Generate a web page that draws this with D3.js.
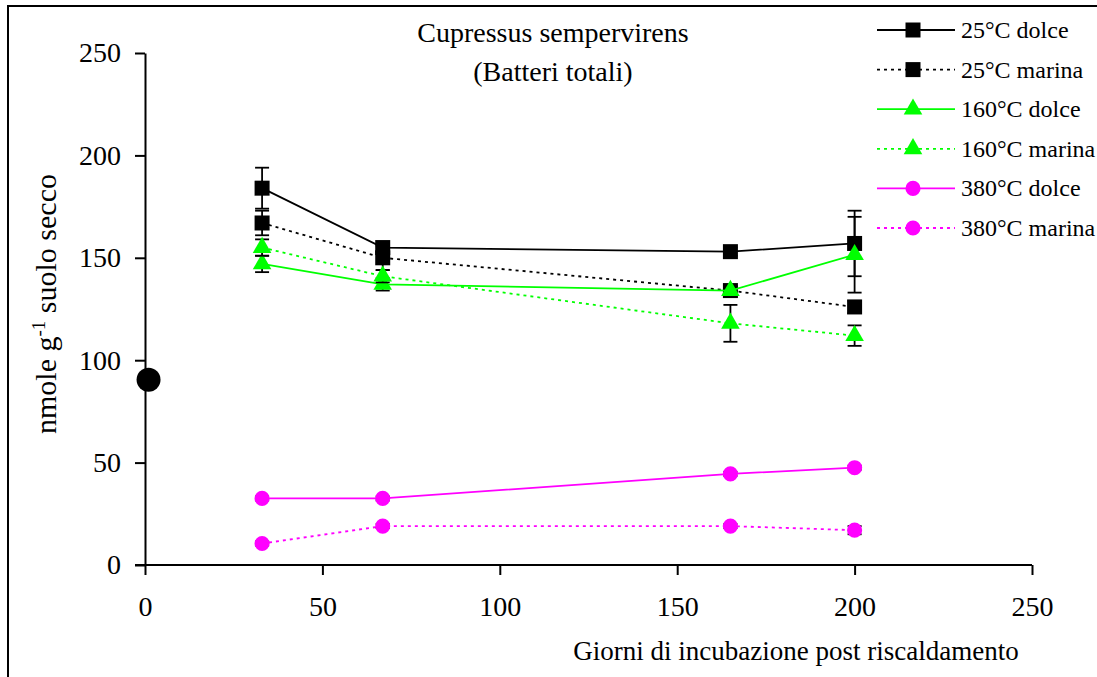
<!DOCTYPE html>
<html>
<head>
<meta charset="utf-8">
<script src="https://cdn.jsdelivr.net/npm/d3@7"></script>
<style>
  body { margin: 0; background: #fff; }
  svg { display: block; font-family: "Liberation Serif", "Times New Roman", serif; }
</style>
</head>
<body>
<svg id="chart" width="1097" height="677"></svg>
<script>
// giorni di incubazione
const days = [33, 67, 165, 200];

// valori per serie (nmole g-1 suolo secco)
const d25dolce = [184, 155, 153, 157];
const d25marina = [167, 150, 134, 126];
const d160dolce = [147, 137, 134, 151.5];
const d160marina = [155, 141, 118, 112];
const d380dolce = [32.5, 32.5, 44.5, 47.5];
const d380marina = [10.5, 19, 19, 17];

// errori
const e25dolce = [10, 2, 2, 16];
const e25marina = [6, 6, 2, 3];
const e160dolce = [4, 3, 2, 18.5];
const e160marina = [4, 3, 9, 5];
const e380dolce = [1, 1, 1, 1];
const e380marina = [1, 1, 1, 2];

// controllo non riscaldato
const controlDay = [1];
const controlValue = [90.5];

const xTicks = [0, 50, 100, 150, 200, 250];
const yTicks = [0, 50, 100, 150, 200, 250];

const seriesNames = ["25°C dolce", "25°C marina", "160°C dolce", "160°C marina", "380°C dolce", "380°C marina"];

const series = [
  { name: seriesNames[0], values: d25dolce, err: e25dolce, color: "#000000", dash: null, shape: "square" },
  { name: seriesNames[1], values: d25marina, err: e25marina, color: "#000000", dash: "3,4", shape: "square" },
  { name: seriesNames[2], values: d160dolce, err: e160dolce, color: "#00ff00", dash: null, shape: "triangle" },
  { name: seriesNames[3], values: d160marina, err: e160marina, color: "#00ff00", dash: "3,4", shape: "triangle" },
  { name: seriesNames[4], values: d380dolce, err: e380dolce, color: "#ff00ff", dash: null, shape: "circle" },
  { name: seriesNames[5], values: d380marina, err: e380marina, color: "#ff00ff", dash: "3,4", shape: "circle" }
];

const svg = d3.select("#chart");

// cornice
svg.append("rect")
  .attr("x", 8).attr("y", 6)
  .attr("width", 1100).attr("height", 680)
  .attr("fill", "none").attr("stroke", "#000").attr("stroke-width", 2);

const x = d3.scaleLinear().domain([0, 250]).range([145, 1032]);
const y = d3.scaleLinear().domain([0, 250]).range([565, 53]);

const xAxis = svg.append("g")
  .attr("transform", "translate(0," + y(0) + ")")
  .call(d3.axisBottom(x).tickValues(xTicks).tickSize(10).tickSizeOuter(0).tickPadding(21));

const yAxis = svg.append("g")
  .attr("transform", "translate(" + x(0) + ",0)")
  .call(d3.axisLeft(y).tickValues(yTicks).tickSize(10).tickSizeOuter(0).tickPadding(14));

[xAxis, yAxis].forEach(ax => {
  ax.select(".domain").attr("stroke", "#000").attr("stroke-width", 2);
  ax.selectAll(".tick line").attr("stroke", "#000").attr("stroke-width", 2);
  ax.selectAll(".tick text")
    .attr("fill", "#000")
    .style("font-family", "Liberation Serif, serif")
    .style("font-size", "28px");
});
xAxis.select(".domain").attr("d", "M" + (x(0) - 10) + ",0H" + x(250));

const symbolFor = shape => {
  if (shape === "square") return d3.symbol().type(d3.symbolSquare).size(225)();
  if (shape === "triangle") return d3.symbol().type(d3.symbolTriangle).size(150)();
  return d3.symbol().type(d3.symbolCircle).size(180)();
};

const line = d3.line()
  .x((d, i) => x(days[i]))
  .y(d => y(d));

series.forEach(s => {
  const g = svg.append("g").attr("class", "series");

  g.append("path")
    .attr("d", line(s.values))
    .attr("fill", "none")
    .attr("stroke", s.color)
    .attr("stroke-width", 1.8)
    .attr("stroke-dasharray", s.dash);

  const bars = g.selectAll(".err").data(s.values).enter().append("g").attr("class", "err");
  bars.append("line")
    .attr("x1", (d, i) => x(days[i])).attr("x2", (d, i) => x(days[i]))
    .attr("y1", (d, i) => y(d + s.err[i])).attr("y2", (d, i) => y(d - s.err[i]))
    .attr("stroke", "#000").attr("stroke-width", 1.8);
  [1, -1].forEach(sign => {
    bars.append("line")
      .attr("x1", (d, i) => x(days[i]) - 7).attr("x2", (d, i) => x(days[i]) + 7)
      .attr("y1", (d, i) => y(d + sign * s.err[i])).attr("y2", (d, i) => y(d + sign * s.err[i]))
      .attr("stroke", "#000").attr("stroke-width", 1.8);
  });

  g.selectAll(".mark").data(s.values).enter().append("path")
    .attr("class", "mark")
    .attr("d", symbolFor(s.shape))
    .attr("transform", (d, i) => "translate(" + x(days[i]) + "," + y(d) + ")")
    .attr("fill", s.color);
});

// punto iniziale
svg.selectAll(".control").data(controlValue).enter().append("circle")
  .attr("class", "control")
  .attr("cx", (d, i) => x(controlDay[i]))
  .attr("cy", d => y(d))
  .attr("r", 12)
  .attr("fill", "#000");

// titolo
svg.append("text")
  .attr("x", 553).attr("y", 42)
  .attr("text-anchor", "middle")
  .style("font-size", "28px")
  .text("Cupressus sempervirens");
svg.append("text")
  .attr("x", 553).attr("y", 81)
  .attr("text-anchor", "middle")
  .style("font-size", "28px")
  .text("(Batteri totali)");

// titoli assi
svg.append("text")
  .attr("x", 796).attr("y", 660)
  .attr("text-anchor", "middle")
  .style("font-size", "27px")
  .text("Giorni di incubazione post riscaldamento");

const yTitle = svg.append("text")
  .attr("transform", "translate(56,304) rotate(-90)")
  .attr("text-anchor", "middle")
  .style("font-size", "30px");
yTitle.append("tspan").text("nmole g");
yTitle.append("tspan").attr("dy", -11).style("font-size", "19px").text("-1");
yTitle.append("tspan").attr("dy", 11).text(" suolo secco");

// legenda
const legendY = d3.scalePoint().domain(seriesNames).range([30, 228]);
const legend = svg.selectAll(".legend").data(series).enter().append("g")
  .attr("class", "legend")
  .attr("transform", d => "translate(0," + legendY(d.name) + ")");
legend.append("line")
  .attr("x1", 877).attr("x2", 955)
  .attr("stroke", d => d.color)
  .attr("stroke-width", 1.8)
  .attr("stroke-dasharray", d => d.dash);
legend.append("path")
  .attr("d", d => symbolFor(d.shape))
  .attr("transform", "translate(913,0)")
  .attr("fill", d => d.color);
legend.append("text")
  .attr("x", 961).attr("y", 8)
  .style("font-size", "24px")
  .text(d => d.name);
</script>
</body>
</html>
